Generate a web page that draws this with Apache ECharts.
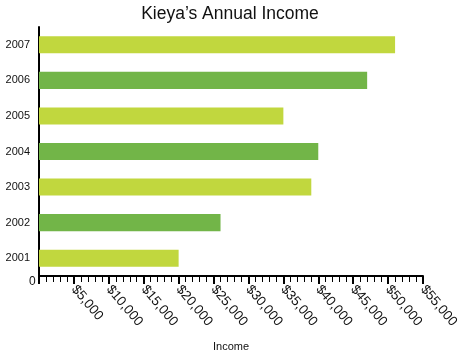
<!DOCTYPE html>
<html>
<head>
<meta charset="utf-8">
<script src="https://cdn.jsdelivr.net/npm/echarts@6/dist/echarts.min.js"></script>
<style>
  html, body { margin: 0; padding: 0; background: #fff; }
  #chart { width: 460px; height: 351px; }
</style>
</head>
<body>
<div id="chart"></div>
<script>
  // values
  var years = ['2001', '2002', '2003', '2004', '2005', '2006', '2007'];
  var income = [20000, 26000, 39000, 40000, 35000, 47000, 51000];
  var xTicks = [0, 5000, 10000, 15000, 20000, 25000, 30000, 35000, 40000, 45000, 50000, 55000];

  var lightGreen = '#c1d73e';
  var darkGreen = '#72b548';
  var font = "'Liberation Sans', Arial, sans-serif";

  var chart = echarts.init(document.getElementById('chart'));

  var option = {
    animation: false,
    title: {
      text: 'Kieya\u2019s Annual Income',
      left: 'center',
      top: 0,
      textStyle: { fontFamily: font, fontSize: 17.5, fontWeight: 'normal', color: '#111' }
    },
    grid: { left: 39, right: 37, top: 27, bottom: 75, outerBoundsMode: 'none' },
    xAxis: {
      type: 'value',
      min: xTicks[0],
      max: xTicks[xTicks.length - 1],
      interval: xTicks[1] - xTicks[0],
      name: 'Income',
      nameLocation: 'middle',
      nameGap: 65,
      nameTextStyle: { fontFamily: font, fontSize: 11, color: '#111' },
      axisLine: { show: true, lineStyle: { color: '#000', width: 2 } },
      axisTick: { show: true, length: 8, lineStyle: { color: '#000', width: 2 } },
      minorTick: { show: true, splitNumber: 5, length: 6, lineStyle: { color: '#000', width: 1 } },
      splitLine: { show: false },
      axisLabel: {
        rotate: -50,
        margin: 11,
        fontFamily: font,
        fontSize: 13.5,
        color: '#111',
        formatter: function (v) {
          if (v === 0) return '';
          return '$' + v.toLocaleString('en-US');
        }
      }
    },
    yAxis: {
      type: 'category',
      data: years,
      axisLine: { show: true, lineStyle: { color: '#000', width: 2 } },
      axisTick: { show: false },
      axisLabel: { fontFamily: font, fontSize: 11, color: '#111', margin: 9 }
    },
    series: [{
      type: 'bar',
      data: income,
      barWidth: '48%',
      itemStyle: {
        color: function (p) { return p.dataIndex % 2 === 0 ? lightGreen : darkGreen; }
      }
    }],
    graphic: [{
      type: 'text',
      left: 29,
      top: 276,
      style: { text: '0', font: '12px ' + font, fill: '#111' }
    }]
  };

  chart.setOption(option);
</script>
</body>
</html>
